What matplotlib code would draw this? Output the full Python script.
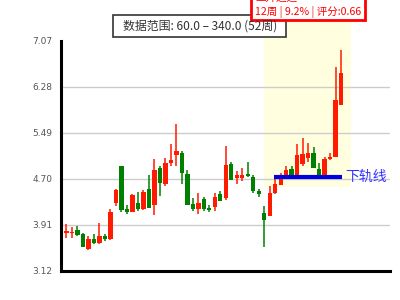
import numpy as np
import matplotlib
matplotlib.use("Agg")
import matplotlib.pyplot as plt
from matplotlib.patches import Rectangle

# weekly candles (52 weeks)
opens = [3.79, 3.77, 3.77, 3.82, 3.75, 3.49, 3.67, 3.60, 3.72, 3.66,
         4.29, 4.92, 4.18, 4.13, 4.29, 4.18, 4.52, 4.24, 4.89, 4.61,
         4.97, 5.10, 5.14, 4.78, 4.26, 4.18, 4.35, 4.20, 4.21, 4.44,
         4.37, 4.95, 4.71, 4.72, 4.78, 4.73, 4.48, 4.11, 4.05, 4.45,
         4.60, 4.75, 4.86, 4.76, 4.95, 5.05, 5.14, 4.87, 4.76, 5.04,
         5.08, 5.97]
highs = [3.83, 3.92, 3.87, 3.89, 3.77, 3.71, 3.74, 3.94, 3.75, 4.18,
         4.53, 4.92, 4.25, 4.44, 4.47, 4.51, 4.76, 5.04, 4.92, 5.05,
         5.29, 5.64, 5.18, 4.85, 4.37, 4.45, 4.39, 4.25, 4.45, 4.48,
         5.26, 4.98, 4.83, 4.88, 4.98, 4.76, 4.52, 4.23, 4.58, 4.71,
         4.79, 4.92, 4.92, 5.30, 5.40, 5.31, 5.24, 4.97, 5.07, 5.14,
         6.63, 6.92]
lows = [3.61, 3.68, 3.68, 3.71, 3.52, 3.47, 3.57, 3.58, 3.62, 3.64,
        4.23, 4.13, 4.09, 4.12, 4.15, 4.16, 4.19, 4.08, 4.40, 4.57,
        4.92, 4.92, 4.61, 4.24, 4.14, 4.09, 4.15, 4.13, 4.15, 4.32,
        4.34, 4.67, 4.61, 4.66, 4.73, 4.45, 4.39, 3.53, 4.05, 4.43,
        4.59, 4.73, 4.75, 4.75, 4.91, 4.99, 4.89, 4.75, 4.75, 5.02,
        5.08, 5.96]
closes = [3.78, 3.80, 3.79, 3.73, 3.53, 3.67, 3.60, 3.71, 3.66, 4.13,
          4.50, 4.16, 4.13, 4.42, 4.18, 4.47, 4.20, 4.85, 4.63, 4.97,
          5.02, 5.18, 4.80, 4.24, 4.17, 4.29, 4.17, 4.16, 4.39, 4.32,
          4.94, 4.68, 4.76, 4.76, 4.75, 4.49, 4.43, 3.99, 4.45, 4.61,
          4.73, 4.85, 4.76, 5.11, 5.12, 5.14, 4.89, 4.76, 5.04, 5.07,
          6.05, 6.52]

y_ticks = [3.12, 3.91, 4.70, 5.49, 6.28, 7.07]
channel_start, channel_end = 37, 52.8
channel_low, channel_top = 4.557, 7.52
support_start, support_end, support_level = 38.8, 51.2, 4.735

range_text = "数据范围: 60.0 – 340.0 (52周)"
channel_title = "上升通道"
channel_info = "12周 | 9.2% | 评分:0.66"
support_label = "下轨线"

cjk = ["Noto Sans CJK SC", "DejaVu Sans"]
W, H = 400, 300


def fx(px):
    return px / W


def fy(py):
    return 1 - py / H


fig = plt.figure(figsize=(4, 3), dpi=100)
ax = fig.add_axes([fx(61), fy(270.5), fx(390) - fx(61), fy(41) - fy(270.5)])

x = np.arange(len(opens))
o = np.array(opens)
c = np.array(closes)
colors = np.where(c >= o, "#ff1a00", "#008000")

# channel highlight
ax.add_patch(Rectangle((channel_start, channel_low), channel_end - channel_start,
                       channel_top - channel_low, facecolor="#ffffe0",
                       edgecolor="none", zorder=0, clip_on=False))

for yt in y_ticks[1:-1]:
    ax.axhline(yt, color="#cccccc", lw=1, zorder=1)

ax.vlines(x, lows, highs, colors=colors, lw=1.1, zorder=3)
body = np.maximum(np.abs(c - o), 0.02)
ax.bar(x, body, bottom=np.minimum(o, c), width=0.8, color=colors, zorder=4)

# support line
ax.plot([support_start, support_end], [support_level, support_level],
        color="#0000e0", lw=3, solid_capstyle="butt", zorder=5)
ax.text(support_end + 0.6, support_level, support_label, color="#3333ff",
        fontsize=10, va="center", ha="left", family=cjk, zorder=6)

ax.set_xlim(0, 59.9)
ax.set_ylim(3.12, 7.07)
ax.set_yticks(y_ticks)
ax.set_yticklabels([f"{v:.2f}" for v in y_ticks])
ax.set_xticks([])
ax.tick_params(axis="y", length=0, pad=6, labelsize=6.5, labelcolor="#555555")
for side in ["top", "right"]:
    ax.spines[side].set_visible(False)
for side in ["left", "bottom"]:
    ax.spines[side].set_linewidth(2.2)
    ax.spines[side].set_color("black")
    ax.spines[side].set_zorder(7)

# data range box
fig.patches.append(Rectangle((fx(113), fy(37)), fx(286) - fx(113), fy(15) - fy(37),
                             transform=fig.transFigure, facecolor="white",
                             edgecolor="#333333", lw=1.2, zorder=10))
fig.text(fx(200), fy(26), range_text, ha="center", va="center",
         fontsize=8.6, color="#333333", family=cjk, zorder=11)

# channel info box
fig.patches.append(Rectangle((fx(251), fy(20)), fx(365) - fx(251), fy(-10) - fy(20),
                             transform=fig.transFigure, facecolor="white",
                             edgecolor="#ff0000", lw=2, zorder=10))
fig.text(fx(255), fy(-2), channel_title, ha="left", va="center",
         fontsize=7.6, color="#ff0000", family=cjk, zorder=11)
fig.text(fx(255), fy(12), channel_info, ha="left", va="center",
         fontsize=7.6, color="#ff0000", family=cjk, zorder=11)

fig.savefig("out.png", dpi=100)
